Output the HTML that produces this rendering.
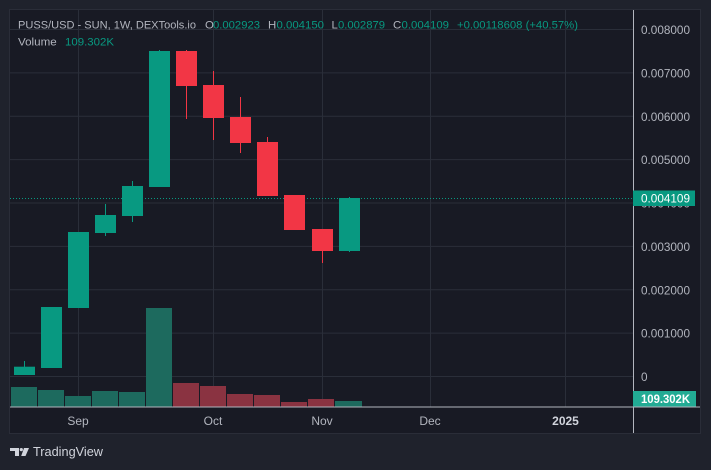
<!DOCTYPE html>
<html><head><meta charset="utf-8"><style>
html,body{margin:0;padding:0;background:#1f222c;}
svg{display:block;font-family:"Liberation Sans",sans-serif;}
</style></head><body>
<svg width="711" height="470" viewBox="0 0 711 470" xmlns="http://www.w3.org/2000/svg">
<rect x="0" y="0" width="711" height="470" fill="#1f222c"/>
<rect x="9.5" y="9.5" width="691" height="424" fill="#181a24" stroke="#2a2d38" stroke-width="1"/>
<!-- horizontal grid -->
<g stroke="#2a2e39" stroke-width="1">
<line x1="10" x2="633" y1="29.5" y2="29.5"/>
<line x1="10" x2="633" y1="72.9" y2="72.9"/>
<line x1="10" x2="633" y1="116.3" y2="116.3"/>
<line x1="10" x2="633" y1="159.6" y2="159.6"/>
<line x1="10" x2="633" y1="203" y2="203"/>
<line x1="10" x2="633" y1="246.4" y2="246.4"/>
<line x1="10" x2="633" y1="289.8" y2="289.8"/>
<line x1="10" x2="633" y1="333.1" y2="333.1"/>
<line x1="10" x2="633" y1="376.5" y2="376.5"/>
<!-- vertical grid -->
<line x1="78.5" x2="78.5" y1="10" y2="407"/>
<line x1="213.5" x2="213.5" y1="10" y2="407"/>
<line x1="322.5" x2="322.5" y1="10" y2="407"/>
<line x1="430.5" x2="430.5" y1="10" y2="407"/>
<line x1="565.5" x2="565.5" y1="10" y2="407"/>
</g>
<!-- volume bars -->
<g>
<rect x="11" y="387" width="26" height="19.5" fill="#1d6a5e"/>
<rect x="38" y="390" width="26" height="16.5" fill="#1d6a5e"/>
<rect x="65" y="396" width="26" height="10.5" fill="#1d6a5e"/>
<rect x="92" y="391" width="26" height="15.5" fill="#1d6a5e"/>
<rect x="119" y="392" width="26" height="14.5" fill="#1d6a5e"/>
<rect x="146" y="308" width="26" height="98.5" fill="#1d6a5e"/>
<rect x="173" y="383" width="26" height="23.5" fill="#8a3341"/>
<rect x="200" y="386" width="26" height="20.5" fill="#8a3341"/>
<rect x="227" y="394" width="26" height="12.5" fill="#8a3341"/>
<rect x="254" y="395" width="26" height="11.5" fill="#8a3341"/>
<rect x="281" y="402" width="26" height="4.5" fill="#8a3341"/>
<rect x="308" y="399" width="26" height="7.5" fill="#8a3341"/>
<rect x="335" y="401" width="27" height="5.5" fill="#1d6a5e"/>
</g>
<!-- current price dotted line -->
<line x1="10" x2="633" y1="198.5" y2="198.5" stroke="#089981" stroke-width="1" stroke-dasharray="1,2"/>
<!-- candles -->
<g fill="#089981">
<rect x="24" y="361" width="1" height="14"/><rect x="14" y="366.7" width="21" height="8.3"/>
<rect x="41" y="307" width="21" height="61"/>
<rect x="68" y="232" width="21" height="76"/>
<rect x="105" y="204" width="1" height="32"/><rect x="95" y="215" width="21" height="18"/>
<rect x="132" y="181" width="1" height="41"/><rect x="122" y="186" width="21" height="30"/>
<rect x="159" y="50" width="1" height="5"/><rect x="149" y="51" width="21" height="136"/>
<rect x="349" y="197" width="1" height="55"/><rect x="339" y="198" width="21" height="53"/>
</g>
<g fill="#f23645">
<rect x="186" y="50" width="1" height="69"/><rect x="176" y="51" width="21" height="35"/>
<rect x="213" y="71" width="1" height="69"/><rect x="203" y="85" width="21" height="33"/>
<rect x="240" y="97" width="1" height="56"/><rect x="230" y="117" width="21" height="26"/>
<rect x="267" y="137" width="1" height="10"/><rect x="257" y="142" width="21" height="54"/>
<rect x="284" y="195" width="21" height="35"/>
<rect x="322" y="240" width="1" height="23"/><rect x="312" y="229" width="21" height="22"/>
</g>
<!-- axes -->
<line x1="633.5" x2="633.5" y1="10" y2="433" stroke="#b2b5be" stroke-width="1"/>
<line x1="10" x2="700" y1="407" y2="407" stroke="#b2b5be" stroke-width="1"/>
<!-- price labels -->
<g fill="#b2b5be" font-size="11.75">
<text x="641" y="34" textLength="49" lengthAdjust="spacingAndGlyphs">0.008000</text>
<text x="641" y="77.4" textLength="49" lengthAdjust="spacingAndGlyphs">0.007000</text>
<text x="641" y="120.8" textLength="49" lengthAdjust="spacingAndGlyphs">0.006000</text>
<text x="641" y="164.1" textLength="49" lengthAdjust="spacingAndGlyphs">0.005000</text>
<text x="641" y="207.5" textLength="49" lengthAdjust="spacingAndGlyphs">0.004000</text>
<text x="641" y="250.9" textLength="49" lengthAdjust="spacingAndGlyphs">0.003000</text>
<text x="641" y="294.3" textLength="49" lengthAdjust="spacingAndGlyphs">0.002000</text>
<text x="641" y="337.6" textLength="49" lengthAdjust="spacingAndGlyphs">0.001000</text>
<text x="641" y="381">0</text>
</g>
<rect x="633" y="190.5" width="62" height="15.5" fill="#089981"/>
<text x="641" y="202.5" fill="#ffffff" font-size="11.75" textLength="49" lengthAdjust="spacingAndGlyphs">0.004109</text>
<rect x="633" y="391" width="63" height="15.5" fill="#22ab94"/>
<text x="641" y="403" fill="#ffffff" font-size="11.75" font-weight="bold" textLength="49" lengthAdjust="spacingAndGlyphs">109.302K</text>
<!-- time labels -->
<g fill="#b2b5be" font-size="12" text-anchor="middle">
<text x="78" y="425">Sep</text>
<text x="213" y="425">Oct</text>
<text x="322" y="425">Nov</text>
<text x="430" y="425">Dec</text>
<text x="565.5" y="425" fill="#d1d4dc" font-weight="bold">2025</text>
</g>
<!-- header -->
<g font-size="11.4">
<text x="18" y="28.5" fill="#b2b5be" textLength="178" lengthAdjust="spacingAndGlyphs">PUSS/USD - SUN, 1W, DEXTools.io</text>
<text x="205" y="28.5" fill="#b2b5be">O</text>
<text x="213" y="28.5" fill="#089981" textLength="47" lengthAdjust="spacingAndGlyphs">0.002923</text>
<text x="268" y="28.5" fill="#b2b5be">H</text>
<text x="276.5" y="28.5" fill="#089981" textLength="47.5" lengthAdjust="spacingAndGlyphs">0.004150</text>
<text x="331.5" y="28.5" fill="#b2b5be">L</text>
<text x="338" y="28.5" fill="#089981" textLength="47" lengthAdjust="spacingAndGlyphs">0.002879</text>
<text x="393" y="28.5" fill="#b2b5be">C</text>
<text x="401.5" y="28.5" fill="#089981" textLength="47.5" lengthAdjust="spacingAndGlyphs">0.004109</text>
<text x="457" y="28.5" fill="#089981" textLength="121" lengthAdjust="spacingAndGlyphs">+0.00118608 (+40.57%)</text>
<text x="18" y="45.5" fill="#b2b5be" textLength="38.7" lengthAdjust="spacingAndGlyphs">Volume</text>
<text x="65" y="45.5" fill="#089981" textLength="49" lengthAdjust="spacingAndGlyphs">109.302K</text>
</g>
<!-- TradingView logo -->
<g fill="#d1d4dc">
<rect x="10" y="448" width="9" height="3"/>
<rect x="15" y="448" width="4" height="8"/>
<circle cx="21.3" cy="449.6" r="1.6"/>
<polygon points="24,448 29,448 25.5,456 21.2,456"/>
<text x="33" y="456" font-size="13" textLength="70" lengthAdjust="spacingAndGlyphs">TradingView</text>
</g>
</svg>
</body></html>
